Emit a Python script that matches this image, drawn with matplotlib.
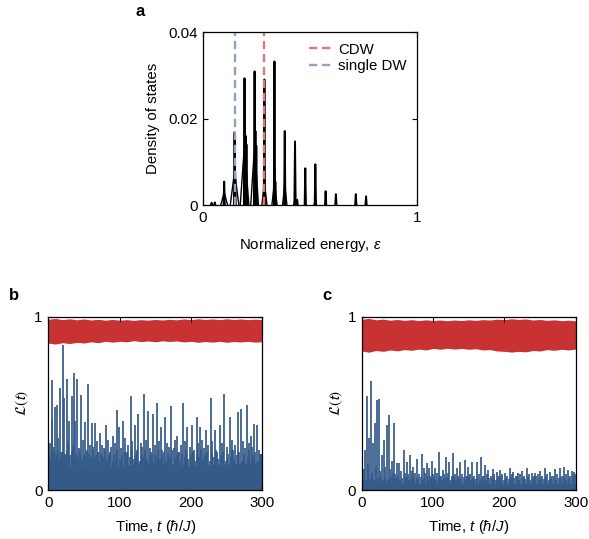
import numpy as np
import matplotlib.pyplot as plt

plt.rcParams['font.family'] = ['Liberation Sans', 'DejaVu Sans']
plt.rcParams['mathtext.fontset'] = 'custom'
plt.rcParams['mathtext.rm'] = 'Liberation Sans'
plt.rcParams['mathtext.it'] = 'Liberation Sans:italic'
plt.rcParams['font.size'] = 10.8

RED = '#c83232'
BLUE = '#335a88'
RED_DASH = '#e07878'
BLUE_DASH = '#8ea5c2'

# ---- panel a: density of states ----
spike_eps = [0.04, 0.055, 0.099, 0.1475, 0.150, 0.194, 0.199, 0.203, 0.241, 0.245, 0.249,
             0.287, 0.334, 0.338, 0.382, 0.430, 0.440, 0.478, 0.525, 0.573, 0.621, 0.714, 0.762]
spike_height = [0.0005, 0.0006, 0.0054, 0.0168, 0.0078, 0.0293, 0.016, 0.014, 0.0309, 0.0171, 0.0137,
                0.029, 0.0332, 0.0054, 0.0171, 0.0147, 0.0012, 0.0085, 0.0094, 0.0032, 0.0025, 0.0025, 0.002]
hump_eps = [0.099, 0.1475, 0.194, 0.241, 0.287, 0.334, 0.382, 0.430, 0.525]
hump_height = [0.0029, 0.0078, 0.014, 0.0137, 0.0052, 0.0054, 0.0049, 0.0015, 0.0012]
hump_width = [0.016, 0.020, 0.020, 0.018, 0.012, 0.012, 0.010, 0.006, 0.006]
cdw_eps = 0.287
dw_eps = 0.1475

# ---- panel b ----
b_red_t = [0, 10, 20, 30, 40, 50, 60, 70, 80, 90, 100, 110, 120, 130, 140, 150, 160, 170, 180,
           190, 200, 210, 220, 230, 240, 250, 260, 270, 280, 290, 300]
b_red_low = [0.848, 0.842, 0.850, 0.845, 0.852, 0.848, 0.855, 0.850, 0.858, 0.853, 0.858, 0.855,
             0.862, 0.856, 0.860, 0.855, 0.861, 0.857, 0.860, 0.854, 0.858, 0.852, 0.857, 0.853,
             0.858, 0.852, 0.857, 0.854, 0.858, 0.853, 0.856]
b_red_high = [0.985, 0.990, 0.983, 0.988, 0.982, 0.987, 0.981, 0.985, 0.980, 0.984, 0.980, 0.983,
              0.979, 0.983, 0.980, 0.984, 0.981, 0.985, 0.982, 0.987, 0.983, 0.988, 0.984, 0.987,
              0.983, 0.988, 0.984, 0.987, 0.983, 0.986, 0.983]
b_base_t = [0, 20, 50, 100, 150, 200, 250, 300]
b_base_top = [0.14, 0.15, 0.13, 0.14, 0.16, 0.14, 0.15, 0.16]
b_spike_t = [4.7, 5.6, 9.3, 12.6, 16.4, 20.1, 22.4, 25.7, 29.4, 32.7, 36, 37.9, 40.7, 45.8,
             51.4, 56, 60.7, 65.4, 72.4, 80.8, 91, 95.8, 99.5, 105, 115.4, 121.5, 126, 134.6,
             140, 147, 152, 157.5, 163.6, 172, 180, 189, 194, 201, 208, 212.6, 220.6, 227.6,
             233.6, 240.7, 246.7, 254.7, 266.4, 269.6, 278, 283.6, 288.3, 292, 296.7]
b_spike_h = [0.635, 0.41, 0.48, 0.49, 0.587, 0.837, 0.53, 0.64, 0.40, 0.54, 0.677, 0.40, 0.64, 0.548,
             0.39, 0.61, 0.385, 0.385, 0.327, 0.375, 0.31, 0.46, 0.365, 0.40, 0.54, 0.375, 0.44, 0.554,
             0.458, 0.44, 0.50, 0.365, 0.423, 0.485, 0.31, 0.50, 0.365, 0.375, 0.423, 0.365, 0.346, 0.53,
             0.346, 0.375, 0.554, 0.423, 0.45, 0.47, 0.49, 0.31, 0.38, 0.375, 0.21]
b_mid_t = [2, 8, 14, 18, 27, 34, 43, 48, 54, 58, 63, 68, 70, 75, 78, 84, 86, 88, 93, 102, 108,
           110, 112, 118, 124, 130, 132, 137, 143, 145, 150, 155, 160, 166, 169, 176, 178, 183,
           186, 192, 198, 204, 210, 215, 218, 224, 230, 237, 243, 250, 257, 259, 262, 273, 276,
           281, 286, 295, 299]
b_mid_h = [0.27, 0.25, 0.30, 0.22, 0.28, 0.26, 0.24, 0.29, 0.23, 0.26, 0.25, 0.28, 0.22, 0.26,
           0.24, 0.29, 0.21, 0.25, 0.27, 0.24, 0.30, 0.22, 0.26, 0.28, 0.23, 0.27, 0.25, 0.29, 0.24,
           0.21, 0.26, 0.28, 0.23, 0.27, 0.25, 0.24, 0.29, 0.22, 0.26, 0.28, 0.25, 0.23, 0.27, 0.29,
           0.24, 0.26, 0.28, 0.22, 0.27, 0.25, 0.29, 0.23, 0.26, 0.28, 0.24, 0.27, 0.25, 0.23, 0.21]
b_low_t = [1, 3.5, 6.5, 7.5, 10.5, 11.5, 13.5, 15, 17.5, 19, 21, 23.5, 24.5, 26.5, 28, 31, 33.5,
           35, 39, 42, 44, 47, 50, 53, 55, 57.5, 59.5, 62, 64, 66.5, 69, 71, 73.5, 77, 79.5, 82.5,
           85, 87, 90, 92, 94.5, 97, 101, 104, 107, 109, 111, 114, 117, 120, 123, 125, 128, 131,
           133.5, 136, 139, 142, 144, 146, 149, 151, 154, 156.5, 159, 162, 165, 168, 171, 174,
           177, 180.5, 182, 185, 188, 191, 193, 196, 199.5, 203, 206, 209, 211.5, 214, 217, 219.5,
           222.5, 226, 229, 232, 235, 238.5, 242, 245, 248.5, 252, 256, 258, 261, 264, 268, 271.5,
           275, 279.5, 282, 285, 287, 290, 294, 298]
b_low_h = [0.20, 0.18, 0.22, 0.17, 0.21, 0.19, 0.23, 0.18, 0.20, 0.22, 0.17, 0.21, 0.19, 0.23,
           0.18, 0.20, 0.22, 0.17, 0.21, 0.19, 0.23, 0.18, 0.20, 0.22, 0.17, 0.21, 0.19, 0.23, 0.18,
           0.20, 0.22, 0.17, 0.21, 0.19, 0.23, 0.18, 0.20, 0.22, 0.17, 0.21, 0.19, 0.23, 0.18, 0.20,
           0.22, 0.17, 0.21, 0.19, 0.23, 0.18, 0.20, 0.22, 0.17, 0.21, 0.19, 0.23, 0.18, 0.20, 0.22,
           0.17, 0.21, 0.19, 0.23, 0.18, 0.20, 0.22, 0.17, 0.21, 0.19, 0.23, 0.18, 0.20, 0.22, 0.17,
           0.21, 0.19, 0.23, 0.18, 0.20, 0.22, 0.17, 0.21, 0.19, 0.23, 0.18, 0.20, 0.22, 0.17, 0.21,
           0.19, 0.23, 0.18, 0.20, 0.22, 0.17, 0.21, 0.19, 0.23, 0.18, 0.20, 0.22, 0.17, 0.21, 0.19,
           0.23, 0.18, 0.20, 0.22, 0.17, 0.21]

# ---- panel c ----
c_red_t = [0, 10, 20, 30, 40, 50, 60, 70, 80, 90, 100, 110, 120, 130, 140, 150, 160, 170, 180,
           190, 200, 210, 220, 230, 240, 250, 260, 270, 280, 290, 300]
c_red_low = [0.802, 0.795, 0.805, 0.800, 0.808, 0.803, 0.810, 0.806, 0.813, 0.808, 0.817, 0.812,
             0.818, 0.813, 0.817, 0.812, 0.815, 0.808, 0.810, 0.802, 0.800, 0.796, 0.800, 0.797,
             0.805, 0.802, 0.810, 0.806, 0.812, 0.808, 0.813]
c_red_high = [0.985, 0.990, 0.982, 0.986, 0.980, 0.984, 0.979, 0.983, 0.978, 0.982, 0.978, 0.981,
              0.977, 0.981, 0.978, 0.982, 0.979, 0.983, 0.981, 0.986, 0.983, 0.988, 0.984, 0.987,
              0.981, 0.984, 0.979, 0.982, 0.977, 0.980, 0.976]
c_base_t = [0, 50, 100, 150, 200, 250, 300]
c_base_top = [0.045, 0.04, 0.035, 0.04, 0.035, 0.04, 0.04]
c_spike_t = [4.7, 7, 10.3, 13, 16.4, 18.7, 21, 24.8, 28, 31.3, 35, 37.9, 42, 45.8, 49, 52.8,
             58.9, 63, 67.8, 72.4, 78, 84, 87.4, 91, 94.9, 98, 102.8, 108.9, 113.5, 118.2, 123,
             128.5, 133.2, 137.9, 144.9, 149.5, 154.2, 161.2, 167.3, 172.9, 177.6, 183.6, 189.3,
             194, 201, 208, 212.6, 219.6, 224.3, 231.3, 238.3, 243, 250, 257, 264, 271, 278, 284,
             289.7, 294.4, 297.7]
c_spike_h = [0.23, 0.54, 0.30, 0.63, 0.27, 0.385, 0.52, 0.525, 0.20, 0.29, 0.375, 0.43, 0.17,
             0.385, 0.155, 0.155, 0.23, 0.163, 0.20, 0.135, 0.18, 0.21, 0.125, 0.155, 0.125, 0.17,
             0.125, 0.22, 0.115, 0.19, 0.163, 0.215, 0.125, 0.163, 0.173, 0.135, 0.163, 0.163, 0.19,
             0.144, 0.115, 0.12, 0.106, 0.115, 0.10, 0.125, 0.106, 0.10, 0.112, 0.125, 0.096, 0.10,
             0.112, 0.125, 0.106, 0.12, 0.125, 0.135, 0.115, 0.112, 0.106]
c_mid_t = [3, 9, 15, 20, 26, 33, 39, 44, 47, 55, 61, 65, 70, 75, 81, 89, 96, 100, 106, 111, 116,
           121, 126, 131, 135, 141, 147, 152, 157, 164, 170, 175, 181, 186, 191, 197, 204, 210,
           216, 222, 228, 234, 241, 247, 253, 260, 267, 274, 281, 287, 292, 299]
c_mid_h = [0.12, 0.15, 0.10, 0.14, 0.11, 0.13, 0.12, 0.10, 0.09, 0.11, 0.10, 0.09, 0.11, 0.10,
           0.09, 0.10, 0.08, 0.09, 0.10, 0.08, 0.09, 0.10, 0.08, 0.09, 0.08, 0.09, 0.08, 0.09,
           0.08, 0.09, 0.08, 0.09, 0.08, 0.09, 0.08, 0.09, 0.08, 0.09, 0.08, 0.09, 0.08, 0.09,
           0.08, 0.09, 0.08, 0.09, 0.08, 0.09, 0.08, 0.09, 0.08, 0.09]
c_low_t = [1.5, 5.8, 8.5, 11.7, 14.5, 17.5, 22.5, 27, 29.5, 32.5, 36.5, 40.5, 43.5, 48, 51,
           53.5, 57, 60, 62, 66, 68.5, 72, 74, 77, 79, 83, 86, 88, 92, 93.5, 97, 99, 101.5, 104,
           108, 110, 113, 115, 118, 120, 124, 127, 130, 132.5, 136, 139, 143, 146, 148, 151, 153,
           156, 159, 162, 166, 168.5, 171.5, 174, 179, 182, 185, 188, 192.5, 195.5, 199, 202.5,
           206, 209, 211, 214, 218, 221, 226, 229, 233, 236, 240, 245, 248, 251.5, 255, 258.5, 262,
           266, 269, 273, 276, 280, 283, 286, 291, 296]
c_low_h = [0.07, 0.06, 0.08, 0.065, 0.075, 0.06, 0.07, 0.08, 0.06, 0.07, 0.065, 0.075, 0.06,
           0.07, 0.08, 0.06, 0.07, 0.065, 0.075, 0.06, 0.07, 0.08, 0.06, 0.07, 0.065, 0.075, 0.06,
           0.07, 0.08, 0.06, 0.07, 0.065, 0.075, 0.06, 0.07, 0.08, 0.06, 0.07, 0.065, 0.075, 0.06,
           0.07, 0.08, 0.06, 0.07, 0.065, 0.075, 0.06, 0.07, 0.08, 0.06, 0.07, 0.065, 0.075, 0.06,
           0.07, 0.08, 0.06, 0.07, 0.065, 0.075, 0.06, 0.07, 0.08, 0.06, 0.07, 0.065, 0.075, 0.06,
           0.07, 0.08, 0.06, 0.07, 0.065, 0.075, 0.06, 0.07, 0.08, 0.06, 0.07, 0.065, 0.075, 0.06,
           0.07, 0.08, 0.06, 0.07, 0.065, 0.075, 0.06, 0.07, 0.08]


def style_axes(ax):
    ax.tick_params(direction='in', length=3.5, width=0.8, top=True, right=True, pad=4)
    for s in ax.spines.values():
        s.set_linewidth(0.9)


fig = plt.figure(figsize=(5.89, 5.39), dpi=100)

# panel a
ax_a = fig.add_axes([203 / 589, 1 - 205 / 539, 214 / 589, 173 / 539])
for c, h, w in zip(hump_eps, hump_height, hump_width):
    ax_a.plot([c - w, c, c + w], [0, h, 0], color='black', lw=1.0)
for c, h in zip(spike_eps, spike_height):
    ax_a.plot([c - 0.003, c, c + 0.003], [0, h, 0], color='black', lw=1.4)
ax_a.axvline(cdw_eps, color=RED_DASH, lw=1.7, ls=(0, (3.5, 2)), label='CDW')
ax_a.axvline(dw_eps, color=BLUE_DASH, lw=1.7, ls=(0, (3.5, 2)), label='single DW')
ax_a.set_xlim(0, 1)
ax_a.set_ylim(0, 0.04)
ax_a.set_xticks([0, 1])
ax_a.set_xticklabels(['0', '1'])
ax_a.set_yticks([0, 0.02, 0.04])
ax_a.set_yticklabels(['0', '0.02', '0.04'])
ax_a.set_xlabel(r'Normalized energy, $\varepsilon$', labelpad=8)
ax_a.set_ylabel('Density of states', labelpad=6)
ax_a.legend(loc='upper right', frameon=False, handlelength=1.6, handletextpad=0.3,
            labelspacing=0.15, borderaxespad=0.3)
style_axes(ax_a)
fig.text(136 / 589, 1 - 12 / 539, 'a', fontsize=12, fontweight='bold', va='center')


def draw_fidelity(ax, red_t, red_low, red_high, base_t, base_top, lines):
    ax.fill_between(red_t, red_low, red_high, color=RED, lw=0)
    ax.fill_between(base_t, 0, base_top, color=BLUE, lw=0)
    for t, h in lines:
        ax.vlines(t, 0, h, color=BLUE, lw=1.25)
    ax.set_xlim(0, 300)
    ax.set_ylim(0, 1)
    ax.set_xticks([0, 100, 200, 300])
    ax.set_yticks([0, 1])
    ax.set_yticklabels(['0', '1'])
    ax.set_xlabel(r'Time, $t$ ($\hbar/J$)', labelpad=6)
    ax.set_ylabel(r'$\mathcal{L}(t)$', labelpad=2, math_fontfamily='stixsans')
    style_axes(ax)


ax_b = fig.add_axes([48.3 / 589, 1 - 490 / 539, 214 / 589, 173.3 / 539])
draw_fidelity(ax_b, b_red_t, b_red_low, b_red_high, b_base_t, b_base_top,
              [(b_low_t, b_low_h), (b_mid_t, b_mid_h), (b_spike_t, b_spike_h)])
fig.text(9 / 589, 1 - 296 / 539, 'b', fontsize=12, fontweight='bold', va='center')

ax_c = fig.add_axes([361.7 / 589, 1 - 490 / 539, 214 / 589, 173.3 / 539])
draw_fidelity(ax_c, c_red_t, c_red_low, c_red_high, c_base_t, c_base_top,
              [(c_low_t, c_low_h), (c_mid_t, c_mid_h), (c_spike_t, c_spike_h)])
fig.text(322 / 589, 1 - 296 / 539, 'c', fontsize=12, fontweight='bold', va='center')

fig.savefig('out.png', dpi=100)
